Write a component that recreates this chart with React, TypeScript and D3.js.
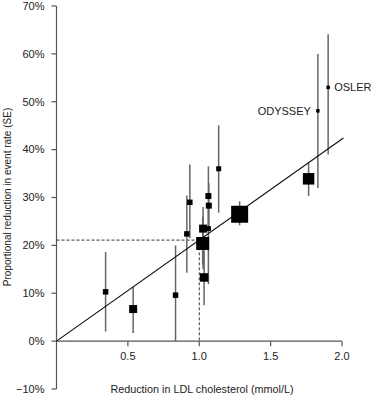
import * as d3 from 'd3';

// LDL reduction (mmol/L) and proportional reduction in event rate (%) per trial
const ldlReduction = [0.344, 0.537, 0.834, 0.913, 0.934, 1.024, 1.027, 1.034, 1.064, 1.067, 1.064, 1.136, 1.283, 1.766, 1.831, 1.903];
const rateReduction = [10.3, 6.7, 9.6, 22.4, 29.0, 20.4, 23.5, 13.3, 30.3, 28.3, 23.5, 36.0, 26.5, 33.9, 48.1, 53.0];
const ciUpper = [18.6, 11.3, 20.0, 30.4, 36.9, 26.0, 28.0, 19.0, 36.5, 33.0, 28.5, 45.1, 29.2, 37.2, 60.0, 64.1];
const ciLower = [2.0, 1.7, 0.0, 14.3, 21.5, 16.0, 15.0, 7.5, 24.0, 24.0, 11.9, 26.8, 24.2, 30.3, 32.0, 39.0];
const weights = [30, 64, 30, 30, 30, 169, 64, 72, 36, 36, 25, 25, 289, 132, 12, 12];
const trialNames = ['', '', '', '', '', '', '', '', '', '', '', '', '', '', 'ODYSSEY', 'OSLER'];

const xTicks = [0.5, 1.0, 1.5, 2.0];
const yTicks = [-10, 0, 10, 20, 30, 40, 50, 60, 70];
const fitSlope = 21.1; // % per mmol/L
const fitEnd = 2.01;
const refLdl = 1.0;

const W = 371;
const H = 396;
const font = '"Liberation Sans", Arial, sans-serif';

export default function App() {
  const x = d3.scaleLinear().domain([0, 2]).range([56.5, 342]);
  const y = d3.scaleLinear().domain([-10, 70]).range([389, 6]);
  const side = d3.scaleSqrt().domain([0, 289]).range([0, 17]);

  const points = ldlReduction.map((v, i) => ({
    x: v, y: rateReduction[i], lo: ciLower[i], hi: ciUpper[i], w: weights[i], name: trialNames[i],
  }));

  return (
    <svg width={W} height={H} style={{ position: 'absolute', left: 0, top: 0, background: '#fff' }}
      fontFamily={font}>
      {/* axes */}
      <line x1={x(0)} x2={x(0)} y1={y(70)} y2={y(-10)} stroke="#555" strokeWidth={1.2} />
      <line x1={x(0)} x2={x(2)} y1={y(0)} y2={y(0)} stroke="#555" strokeWidth={1.2} />
      {yTicks.map(t => (
        <g key={t}>
          <line x1={x(0) - 5} x2={x(0)} y1={y(t)} y2={y(t)} stroke="#555" strokeWidth={1.2} />
          <text x={x(0) - 12} y={y(t)} dy="0.35em" textAnchor="end" fontSize={11} fill="#222">
            {t < 0 ? `\u2212${-t}%` : `${t}%`}
          </text>
        </g>
      ))}
      {xTicks.map(t => (
        <g key={t}>
          <line x1={x(t)} x2={x(t)} y1={y(0)} y2={y(0) + 5} stroke="#555" strokeWidth={1.2} />
          <text x={x(t)} y={y(0) + 19} textAnchor="middle" fontSize={11} fill="#222">
            {d3.format('.1f')(t)}
          </text>
        </g>
      ))}

      {/* reference dashed lines */}
      <path d={`M${x(0)},${y(refLdl * fitSlope)}H${x(refLdl)}V${y(0)}`} fill="none"
        stroke="#333" strokeWidth={1} strokeDasharray="3,2" />

      {/* error bars */}
      {points.map((p, i) => (
        <line key={'e' + i} x1={x(p.x)} x2={x(p.x)} y1={y(p.hi)} y2={y(p.lo)} stroke="#666" strokeWidth={1.5} />
      ))}

      {/* regression line */}
      <line x1={x(0)} y1={y(0)} x2={x(fitEnd)} y2={y(fitEnd * fitSlope)} stroke="#111" strokeWidth={1.2} />

      {/* squares */}
      {points.map((p, i) => {
        const s = side(p.w);
        return <rect key={'s' + i} x={x(p.x) - s / 2} y={y(p.y) - s / 2} width={s} height={s} fill="#000" />;
      })}

      {/* labels */}
      {points.filter(p => p.name).map(p => (
        p.name === 'OSLER'
          ? <text key={p.name} x={x(p.x) + 6} y={y(p.y)} dy="0.35em" fontSize={11} fill="#222">{p.name}</text>
          : <text key={p.name} x={x(p.x) - 7} y={y(p.y)} dy="0.35em" textAnchor="end" fontSize={11} fill="#222">{p.name}</text>
      ))}

      {/* axis titles */}
      <text x={202} y={y(-10) + 4} textAnchor="middle" fontSize={10.8} fill="#222">
        Reduction in LDL cholesterol (mmol/L)
      </text>
      <text transform={`translate(11,197) rotate(-90)`} textAnchor="middle" fontSize={10} fill="#222">
        Proportional reduction in event rate (SE)
      </text>
    </svg>
  );
}
